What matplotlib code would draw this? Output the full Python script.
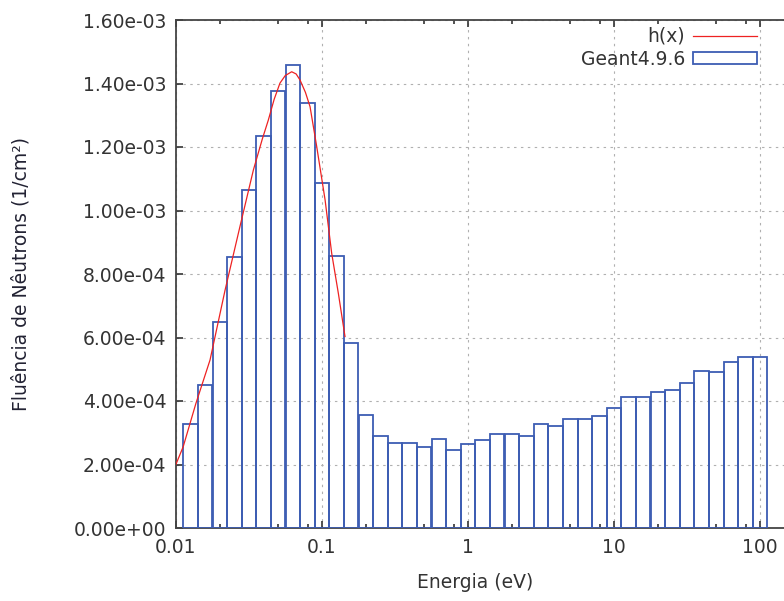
import matplotlib
matplotlib.use('Agg')
from matplotlib import pyplot as plt
from matplotlib.lines import Line2D
from matplotlib.patches import Patch
from matplotlib.ticker import FormatStrFormatter, LogLocator, NullFormatter
import numpy as np

# Centros dos bins (eV) e fluência do histograma Geant4.9.6
energia = [0.0126, 0.0158, 0.0200, 0.0251, 0.0316, 0.0398, 0.0501, 0.0631, 0.0794, 0.1,
           0.126, 0.158, 0.200, 0.251, 0.316, 0.398, 0.501, 0.631, 0.794, 1.0,
           1.26, 1.58, 2.00, 2.51, 3.16, 3.98, 5.01, 6.31, 7.94, 10.0,
           12.6, 15.8, 20.0, 25.1, 31.6, 39.8, 50.1, 63.1, 79.4, 100.0]
fluencia = [3.29e-4, 4.50e-4, 6.48e-4, 8.54e-4, 1.066e-3, 1.236e-3, 1.377e-3, 1.459e-3, 1.338e-3, 1.087e-3,
            8.57e-4, 5.84e-4, 3.57e-4, 2.89e-4, 2.68e-4, 2.68e-4, 2.56e-4, 2.81e-4, 2.45e-4, 2.65e-4,
            2.77e-4, 2.96e-4, 2.96e-4, 2.89e-4, 3.29e-4, 3.21e-4, 3.44e-4, 3.44e-4, 3.53e-4, 3.78e-4,
            4.14e-4, 4.14e-4, 4.29e-4, 4.34e-4, 4.58e-4, 4.95e-4, 4.91e-4, 5.22e-4, 5.39e-4, 5.39e-4]

# Curva h(x)
hx_x = [0.0100, 0.0112, 0.0137, 0.0171, 0.0217, 0.0274, 0.0339, 0.0390, 0.0429, 0.0470,
        0.0515, 0.0560, 0.0620, 0.0665, 0.0707, 0.0770, 0.0828, 0.0920, 0.105, 0.1165,
        0.1294, 0.1437]
hx_y = [2.01e-4, 2.56e-4, 3.93e-4, 5.29e-4, 7.50e-4, 9.49e-4, 1.128e-3, 1.225e-3, 1.285e-3, 1.350e-3,
        1.401e-3, 1.425e-3, 1.437e-3, 1.430e-3, 1.411e-3, 1.372e-3, 1.327e-3, 1.201e-3, 1.033e-3, 8.65e-4,
        7.39e-4, 6.03e-4]

azul = '#3d5db3'
vermelho = '#ee2222'
plt.rcParams['font.family'] = ['DejaVu Sans']
plt.rcParams['font.size'] = 13.5

fig = plt.figure(figsize=(7.84, 6.01), dpi=100)
ax = fig.add_axes([176/784, 73/601, 628/784, 508/601])

centros = np.array(energia)
esq = centros * 10**(-0.05)
dir_ = centros * 10**(0.05)
ax.bar(esq, fluencia, width=dir_ - esq, align='edge', fill=False,
       edgecolor=azul, linewidth=1.3, zorder=3)
ax.plot(hx_x, hx_y, color=vermelho, linewidth=0.9, zorder=4)

ax.set_xscale('log')
ax.set_xlim(0.01, 200)
ax.set_ylim(0, 1.6e-3)
ax.set_yticks(np.arange(0, 1.61e-3, 2e-4))
ax.yaxis.set_major_formatter(FormatStrFormatter('%.2e'))
ax.xaxis.set_minor_locator(LogLocator(base=10, subs=(2, 5, 8), numticks=10))
ax.xaxis.set_minor_formatter(NullFormatter())
ax.set_xticks([0.01, 0.1, 1, 10, 100])
ax.set_xticklabels(['0.01', '0.1', '1', '10', '100'])

ax.tick_params(which='both', direction='in', top=True, right=True,
               colors='#333333', labelcolor='#333333', width=1.2)
ax.tick_params(which='major', length=5, pad=7)
ax.tick_params(which='minor', length=3)
for s in ax.spines.values():
    s.set_color('#444444')
    s.set_linewidth(1.3)

ax.grid(True, which='major', color='#b0b0b0', linewidth=0.8,
        linestyle=(0, (2.2, 4.0)), zorder=1)

ax.set_xlabel('Energia (eV)', color='#333333')
ax.xaxis.set_label_coords((475.5 - 176) / 628, -0.088)
ax.set_ylabel('Fluência de Nêutrons (1/cm²)', color='#222233')
ax.yaxis.set_label_coords(-0.231, 0.5)

handles = [Line2D([], [], color=vermelho, linewidth=0.9),
           Patch(facecolor='none', edgecolor=azul, linewidth=1.3)]
ax.legend(handles, ['h(x)', 'Geant4.9.6'], loc='upper right',
          bbox_to_anchor=(757/784, 1 - 27/601), bbox_transform=fig.transFigure,
          frameon=False, markerfirst=False, borderpad=0, borderaxespad=0,
          handlelength=3.4, handleheight=0.55, handletextpad=0.45,
          labelspacing=0.2, labelcolor='#333333')

fig.savefig('out.png', dpi=100)
